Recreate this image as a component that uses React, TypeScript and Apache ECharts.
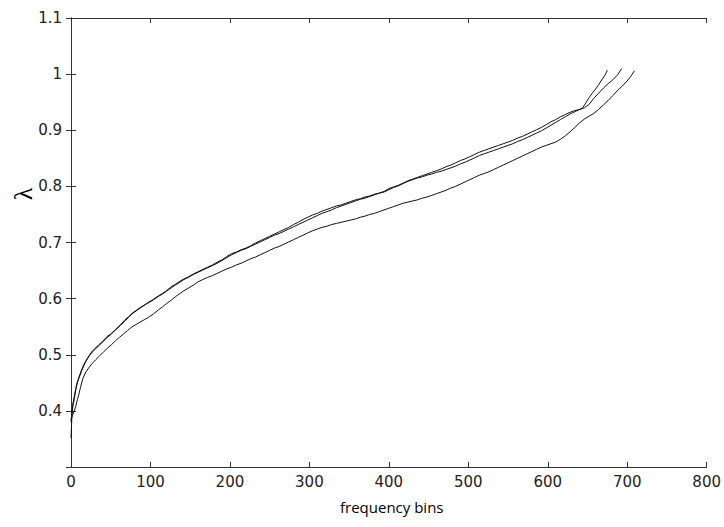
import React, { useEffect, useRef } from "react";
import * as echarts from "echarts";

const xTicks = { min: 0, max: 800, interval: 100 };
const yTicks = { min: 0.3, max: 1.1, interval: 0.1 };

const curveA: [number, number][] = [
  [0, 0.352], [1, 0.385], [2, 0.41], [4, 0.425], [6, 0.44], [8, 0.452], [10, 0.46], [13, 0.472], [16, 0.482], [19, 0.49],
  [23, 0.499], [27, 0.507], [31, 0.512], [35, 0.518], [40, 0.524], [45, 0.532], [50, 0.537], [56, 0.545], [62, 0.553], [67, 0.561],
  [72, 0.567], [77, 0.574], [83, 0.58], [88, 0.585], [93, 0.589], [98, 0.594], [104, 0.599], [110, 0.605], [115, 0.609], [120, 0.614],
  [126, 0.621], [132, 0.626], [137, 0.631], [142, 0.635], [148, 0.639], [154, 0.644], [160, 0.648], [166, 0.652], [172, 0.656], [178, 0.66],
  [184, 0.665], [190, 0.669], [196, 0.675], [202, 0.68], [208, 0.683], [214, 0.687], [220, 0.69], [226, 0.694], [232, 0.699], [238, 0.703],
  [244, 0.707], [250, 0.711], [256, 0.715], [262, 0.719], [268, 0.723], [274, 0.727], [280, 0.732], [286, 0.736], [292, 0.741], [298, 0.745],
  [304, 0.749], [310, 0.752], [316, 0.756], [322, 0.759], [328, 0.762], [334, 0.765], [340, 0.767], [346, 0.77], [352, 0.773], [358, 0.776],
  [364, 0.778], [370, 0.781], [376, 0.783], [382, 0.786], [388, 0.788], [394, 0.791], [400, 0.796], [406, 0.799], [412, 0.802], [418, 0.806],
  [424, 0.81], [430, 0.813], [436, 0.816], [442, 0.819], [448, 0.822], [454, 0.825], [460, 0.828], [466, 0.831], [472, 0.835], [478, 0.838],
  [484, 0.842], [490, 0.846], [496, 0.849], [502, 0.853], [508, 0.857], [514, 0.861], [520, 0.864], [526, 0.867], [532, 0.87], [538, 0.873],
  [544, 0.876], [550, 0.879], [556, 0.882], [562, 0.886], [568, 0.889], [574, 0.893], [580, 0.897], [586, 0.901], [592, 0.905], [598, 0.91],
  [604, 0.915], [610, 0.919], [616, 0.924], [622, 0.928], [628, 0.932], [634, 0.935], [640, 0.937], [644, 0.94], [648, 0.949], [652, 0.958],
  [656, 0.966], [660, 0.973], [664, 0.981], [668, 0.99], [672, 0.998], [675, 1.007],
];

const curveB: [number, number][] = [
  [0, 0.38], [1, 0.395], [2, 0.405], [4, 0.42], [6, 0.437], [8, 0.45], [10, 0.458], [13, 0.47], [16, 0.48], [19, 0.489],
  [23, 0.498], [27, 0.505], [31, 0.511], [35, 0.516], [40, 0.523], [45, 0.53], [50, 0.536], [56, 0.544], [62, 0.552], [67, 0.559],
  [72, 0.566], [77, 0.573], [83, 0.579], [88, 0.584], [93, 0.589], [98, 0.593], [104, 0.598], [110, 0.604], [115, 0.608], [120, 0.613],
  [126, 0.619], [132, 0.625], [137, 0.629], [142, 0.634], [148, 0.638], [154, 0.643], [160, 0.647], [166, 0.651], [172, 0.655], [178, 0.659],
  [184, 0.663], [190, 0.668], [196, 0.673], [202, 0.678], [208, 0.682], [214, 0.686], [220, 0.689], [226, 0.693], [232, 0.697], [238, 0.701],
  [244, 0.705], [250, 0.709], [256, 0.713], [262, 0.716], [268, 0.72], [274, 0.724], [280, 0.728], [286, 0.732], [292, 0.736], [298, 0.74],
  [304, 0.744], [310, 0.748], [316, 0.752], [322, 0.755], [328, 0.758], [334, 0.762], [340, 0.765], [346, 0.768], [352, 0.771], [358, 0.774],
  [364, 0.777], [370, 0.779], [376, 0.782], [382, 0.785], [388, 0.788], [394, 0.79], [400, 0.794], [406, 0.798], [412, 0.801], [418, 0.805],
  [424, 0.809], [430, 0.812], [436, 0.815], [442, 0.817], [448, 0.82], [454, 0.822], [460, 0.825], [466, 0.827], [472, 0.83], [478, 0.833],
  [484, 0.836], [490, 0.84], [496, 0.843], [502, 0.847], [508, 0.851], [514, 0.855], [520, 0.858], [526, 0.861], [532, 0.864], [538, 0.867],
  [544, 0.87], [550, 0.873], [556, 0.876], [562, 0.88], [568, 0.883], [574, 0.887], [580, 0.891], [586, 0.895], [592, 0.899], [598, 0.904],
  [604, 0.909], [610, 0.914], [616, 0.919], [622, 0.924], [628, 0.929], [634, 0.933], [640, 0.937], [646, 0.94], [652, 0.946], [658, 0.957],
  [664, 0.966], [670, 0.975], [676, 0.983], [682, 0.99], [688, 0.999], [693, 1.01],
];

const curveC: [number, number][] = [
  [0, 0.385], [2, 0.392], [4, 0.4], [6, 0.408], [8, 0.42], [10, 0.43], [12, 0.442], [15, 0.458], [19, 0.47], [23, 0.478],
  [27, 0.485], [31, 0.491], [36, 0.498], [41, 0.505], [46, 0.512], [51, 0.518], [56, 0.525], [61, 0.531], [66, 0.537], [71, 0.543],
  [77, 0.55], [82, 0.554], [88, 0.559], [93, 0.563], [98, 0.567], [104, 0.573], [110, 0.58], [115, 0.585], [120, 0.591], [126, 0.597],
  [132, 0.604], [137, 0.609], [142, 0.614], [148, 0.619], [154, 0.624], [160, 0.63], [166, 0.634], [172, 0.638], [178, 0.641], [184, 0.645],
  [190, 0.649], [196, 0.653], [202, 0.656], [208, 0.66], [214, 0.663], [220, 0.667], [226, 0.671], [232, 0.674], [238, 0.678], [244, 0.682],
  [250, 0.686], [256, 0.69], [262, 0.693], [268, 0.697], [274, 0.701], [280, 0.705], [286, 0.709], [292, 0.713], [298, 0.717], [304, 0.721],
  [310, 0.724], [316, 0.727], [322, 0.729], [328, 0.732], [334, 0.734], [340, 0.736], [346, 0.738], [352, 0.74], [358, 0.742], [364, 0.745],
  [370, 0.747], [376, 0.75], [382, 0.752], [388, 0.755], [394, 0.758], [400, 0.761], [406, 0.764], [412, 0.767], [418, 0.77], [424, 0.772],
  [430, 0.774], [436, 0.776], [442, 0.779], [448, 0.781], [454, 0.784], [460, 0.787], [466, 0.79], [472, 0.793], [478, 0.797], [484, 0.8],
  [490, 0.804], [496, 0.808], [502, 0.812], [508, 0.816], [514, 0.82], [520, 0.823], [526, 0.826], [532, 0.83], [538, 0.834], [544, 0.838],
  [550, 0.842], [556, 0.846], [562, 0.85], [568, 0.854], [574, 0.858], [580, 0.862], [586, 0.866], [592, 0.87], [598, 0.873], [604, 0.876],
  [610, 0.879], [616, 0.884], [622, 0.89], [628, 0.897], [634, 0.905], [640, 0.913], [646, 0.92], [652, 0.925], [658, 0.93], [664, 0.937],
  [670, 0.945], [676, 0.953], [682, 0.962], [688, 0.971], [694, 0.979], [700, 0.988], [705, 0.997], [709, 1.006],
];

const xName = "frequency bins";
const yName = "λ";

const AXIS_COLOR = "#333";
const LABEL_FONT = "DejaVu Sans";

export default function App() {
  const ref = useRef<HTMLDivElement>(null);
  useEffect(() => {
    if (!ref.current) return;
    const chart = echarts.init(ref.current, null, { renderer: "svg" });
    const axisLine = { show: true, lineStyle: { color: AXIS_COLOR, width: 1 } };
    const tick = { show: true, inside: true, length: 5, lineStyle: { color: AXIS_COLOR } };
    const yFmt = (v: number) => (Math.abs(v - yTicks.min) < 1e-6 ? "" : String(+v.toFixed(1)));
    const lineSeries = (data: [number, number][]) => ({
      type: "line",
      data,
      showSymbol: false,
      symbol: "none",
      lineStyle: { color: "#111", width: 1 },
      xAxisIndex: 0,
      yAxisIndex: 0,
    });
    chart.setOption({
      animation: false,
      backgroundColor: "#fff",
      grid: { left: 71, right: 16, top: 18, bottom: 60, containLabel: false },
      xAxis: [
        {
          type: "value", position: "bottom", ...xTicks,
          axisLine, axisTick: tick, splitLine: { show: false },
          axisLabel: { color: "#222", fontSize: 15, fontFamily: LABEL_FONT, margin: 7 },
        },
        {
          type: "value", position: "top", ...xTicks,
          axisLine, axisTick: tick, splitLine: { show: false }, axisLabel: { show: false },
        },
      ],
      yAxis: [
        {
          type: "value", position: "left", ...yTicks,
          axisLine, axisTick: tick, splitLine: { show: false },
          axisLabel: { color: "#222", fontSize: 15, fontFamily: LABEL_FONT, margin: 9, formatter: yFmt },
        },
        {
          type: "value", position: "right", ...yTicks,
          axisLine, axisTick: tick, splitLine: { show: false }, axisLabel: { show: false },
        },
      ],
      graphic: [
        {
          type: "text", left: 340, top: 499,
          style: { text: xName, fill: "#000", fontSize: 15, fontFamily: "Open Sans" },
        },
        {
          type: "group", x: 23, y: 194, rotation: Math.PI / 2,
          children: [
            {
              type: "text", x: 0, y: 0,
              style: { text: yName, fill: "#000", fontSize: 26, fontFamily: "Liberation Serif", align: "center", verticalAlign: "middle" },
            },
          ],
        },
      ],
      series: [lineSeries(curveA), lineSeries(curveB), lineSeries(curveC)],
    });
    return () => chart.dispose();
  }, []);
  return <div ref={ref} style={{ width: 724, height: 527, position: "absolute", left: 0, top: 0 }} />;
}
